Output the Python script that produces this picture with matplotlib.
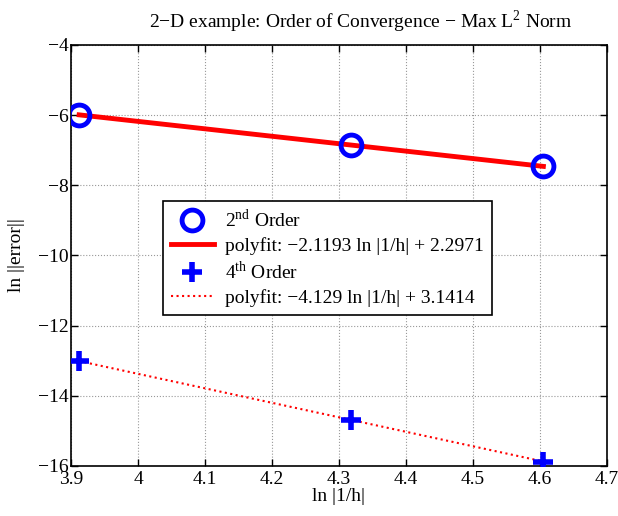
import numpy as np
import matplotlib.pyplot as plt

plt.rcParams['font.family'] = ['Liberation Serif', 'DejaVu Serif']
plt.rcParams['mathtext.fontset'] = 'custom'
plt.rcParams['mathtext.rm'] = 'Liberation Serif'

# grid sizes 50, 75, 100 -> ln |1/h|
ln_inv_h = [3.9120, 4.3175, 4.6052]
err_2nd = [-5.99, -6.86, -7.46]
err_4th = [-13.00, -14.70, -15.88]
fit_2nd = (-2.1193, 2.2971)
fit_4th = (-4.129, 3.1414)

x = np.array(ln_inv_h)

fig = plt.figure(figsize=(6.18, 5.16), dpi=100)
ax = fig.add_axes([0.115, 0.097, 0.867, 0.816])

ax.plot(x, err_2nd, 'o', color='blue', markersize=15, markerfacecolor='none',
        markeredgewidth=3.5, label=r'2$^{\rm nd}$ Order', zorder=3)
ax.plot(x, fit_2nd[0] * x + fit_2nd[1], '-', color='red', linewidth=3.5,
        label='polyfit: \u22122.1193 ln |1/h| + 2.2971', zorder=2)
ax.plot(x, err_4th, '+', color='blue', markersize=15, markeredgewidth=4,
        label=r'4$^{\rm th}$ Order', zorder=3)
ax.plot(x, fit_4th[0] * x + fit_4th[1], ':', color='red', linewidth=1.5,
        label='polyfit: \u22124.129 ln |1/h| + 3.1414', zorder=2)

ax.set_xlim(3.9, 4.7)
ax.set_ylim(-16, -4)
ax.set_xticks(np.arange(3.9, 4.71, 0.1))
ax.set_xticklabels(['3.9', '4', '4.1', '4.2', '4.3', '4.4', '4.5', '4.6', '4.7'])
ax.set_yticks(np.arange(-16, -3, 2))
ax.set_yticklabels(['\u2212%d' % abs(v) for v in range(-16, -3, 2)])
ax.tick_params(direction='in', labelsize=14, top=True, right=True, length=5, width=1)
ax.tick_params(axis='y', pad=2)
ax.grid(True, linestyle=':', color='#999999', linewidth=0.8)
for s in ax.spines.values():
    s.set_linewidth(1.2)

ax.set_title('2\u2212D example: Order of Convergence \u2212 Max L$^2$ Norm',
             fontsize=14, pad=12, x=0.54)
ax.set_xlabel('ln |1/h|', fontsize=14, labelpad=0)
ax.set_ylabel('ln ||error||', fontsize=14, labelpad=9)

leg = ax.legend(loc='upper left', bbox_to_anchor=(0.172, 0.63), fontsize=14,
                fancybox=False, edgecolor='black', framealpha=1,
                handlelength=2.2, borderpad=0.4, labelspacing=0.3,
                handletextpad=0.6, borderaxespad=0)
leg.get_frame().set_linewidth(1.2)

fig.savefig('out.png', dpi=100)
